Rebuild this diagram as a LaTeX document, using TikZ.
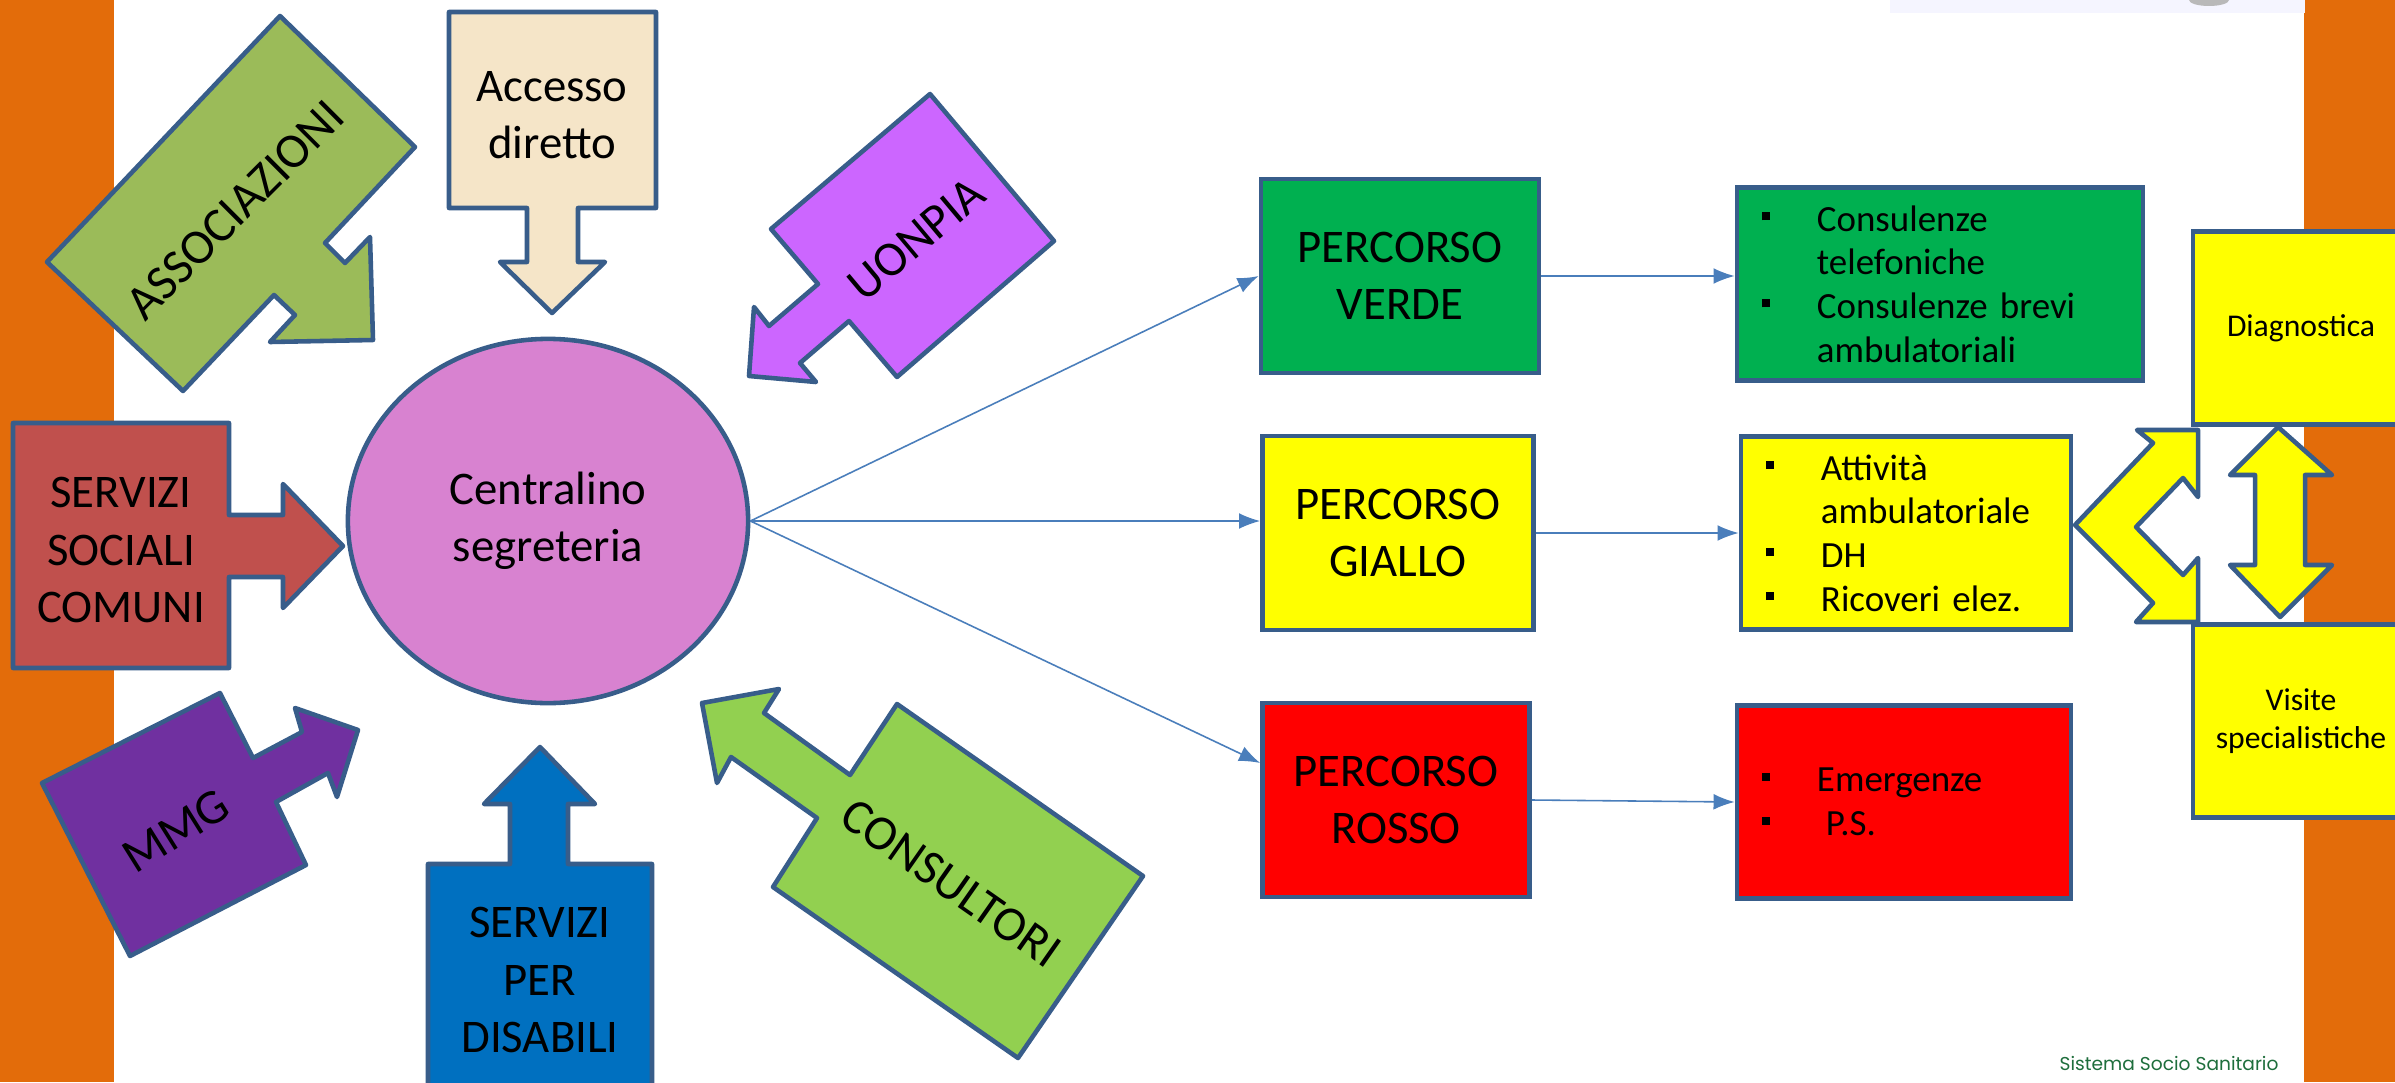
\documentclass[tikz,border=0pt]{standalone}
\usepackage{fontspec}
\setmainfont{Carlito}
\newfontfamily\footfont{Poppins}
\usetikzlibrary{shapes,arrows.meta,positioning}

\definecolor{orangebar}{RGB}{227,108,10}
\definecolor{outl}{RGB}{56,93,138}
\definecolor{cassoc}{RGB}{155,187,89}
\definecolor{caccesso}{RGB}{245,229,200}
\definecolor{ccentr}{RGB}{216,130,208}
\definecolor{csociali}{RGB}{192,80,77}
\definecolor{cmmg}{RGB}{112,48,160}
\definecolor{cdisab}{RGB}{0,112,192}
\definecolor{cconsult}{RGB}{146,208,80}
\definecolor{cuonpia}{RGB}{204,102,255}
\definecolor{cverde}{RGB}{0,176,80}
\definecolor{cgiallo}{RGB}{255,255,0}
\definecolor{crosso}{RGB}{255,0,0}
\definecolor{linkblue}{RGB}{74,126,187}
\definecolor{footgreen}{RGB}{30,110,60}

\newcommand{\bul}{\makebox[0.55cm][l]{\raisebox{0.11cm}{\rule{0.08cm}{0.08cm}}}}
\newcommand{\ind}{\hspace*{0.55cm}}

\begin{document}
\begin{tikzpicture}[x=0.01cm, y=-0.01cm,
  calloutarrow/.style={draw=outl, line width=1.3pt, line join=round},
  bigtext/.style={font=\fontsize{13.3}{16.3}\selectfont, align=center},
  slanttext/.style={font=\fontsize{14}{16}\selectfont},
  percorso/.style={draw=outl, line width=1.3pt, bigtext, inner sep=0pt, minimum height=1.94cm},
  detail/.style={draw=outl, line width=1.3pt, font=\fontsize{10.5}{12.4}\selectfont, align=left, inner xsep=0.25cm, inner ysep=0pt, minimum height=1.93cm},
  sidebox/.style={draw=outl, line width=1.3pt, fill=cgiallo, font=\fontsize{9}{10.8}\selectfont, align=center, minimum width=2.16cm, minimum height=1.93cm},
  feed/.style={draw=linkblue, line width=0.45pt, -{Latex[length=6pt,width=4.5pt]}}
]
\useasboundingbox (0,0) rectangle (2395,1082);
\clip (0,0) rectangle (2395,1082);
\fill[white] (0,0) rectangle (2395,1082);

% side bands
\fill[orangebar] (0,0) rectangle (114,1082);
\fill[orangebar] (2304,0) rectangle (2395,1082);
\fill[blue!4] (1890,0) rectangle (2305,13);
\fill[gray!55] (2209,0) ellipse (20 and 6);

% incoming arrows
\draw[calloutarrow, fill=cassoc] (280,16) -- (415,147) -- (325,243) -- (345,263) -- (370,237) -- (373,340) -- (270,342) -- (295,315) -- (274,295) -- (183,391) -- (47,262) -- cycle;
\node[slanttext, rotate=45] (assoc) at (235,210) {ASSOCIAZIONI};

\draw[calloutarrow, fill=caccesso] (449,12) -- (656,12) -- (656,208) -- (578,208) -- (578,262) -- (605,262) -- (552,313) -- (500,262) -- (527,262) -- (527,208) -- (449,208) -- cycle;
\node[bigtext] (accesso) at (552,115) {Accesso\\diretto};

\draw[calloutarrow, fill=cuonpia] (930,94) -- (1054,241) -- (897,377) -- (849,321) -- (800,363) -- (816,382) -- (749,376) -- (754,307) -- (769,326) -- (818,284) -- (771,229) -- cycle;
\node[slanttext, rotate=40] (uonpia) at (916,239) {UONPIA};

\draw[calloutarrow, fill=csociali] (13,423) -- (229,423) -- (229,515) -- (283,515) -- (283,484) -- (343,546) -- (283,608) -- (283,577) -- (229,577) -- (229,668) -- (13,668) -- cycle;
\node[bigtext] (sociali) at (121,550) {SERVIZI\\SOCIALI\\COMUNI};

\draw[calloutarrow, fill=cmmg] (42,783) -- (220,693) -- (253,758) -- (302,732) -- (295,708) -- (358,730) -- (337,797) -- (328,773) -- (276,802) -- (306,865) -- (130,956) -- cycle;
\node[slanttext, rotate=32] (mmg) at (176,831) {MMG};

\draw[calloutarrow, fill=cdisab] (428,1095) -- (428,864) -- (510,864) -- (510,804) -- (484,804) -- (540,747) -- (595,804) -- (568,804) -- (568,864) -- (652,864) -- (652,1095) -- cycle;
\node[bigtext] (disab) at (540,980) {SERVIZI\\PER\\DISABILI};

\draw[calloutarrow, fill=cconsult] (702,703) -- (779,689) -- (764,713) -- (850,775) -- (897,704) -- (1143,876) -- (1018,1058) -- (773,887) -- (817,818) -- (731,757) -- (717,783) -- cycle;
\node[slanttext, rotate=-35] (consult) at (951,883) {CONSULTORI};

% centre
\node[draw=outl, line width=1.3pt, fill=ccentr, ellipse, minimum width=4cm, minimum height=3.64cm, bigtext] (cen) at (548,521) {Centralino\\segreteria};

% paths
\node[percorso, fill=cverde, minimum width=2.78cm] (pverde) at (1400,276) {PERCORSO\\VERDE};
\node[percorso, fill=cgiallo, minimum width=2.71cm] (pgiallo) at (1398,533) {PERCORSO\\GIALLO};
\node[percorso, fill=crosso, minimum width=2.67cm] (prosso) at (1396,800) {PERCORSO\\ROSSO};

\node[detail, fill=cverde, text width=3.56cm] (dverde) at (1940,284) {\bul Consulenze\\ \ind telefoniche\\ \bul Consulenze brevi\\ \ind ambulatoriali};
\node[detail, fill=cgiallo, text width=2.80cm] (dgiallo) at (1906,533) {\bul Attività\\ \ind ambulatoriale\\ \bul DH\\ \bul Ricoveri elez.};
\node[detail, fill=crosso, text width=2.84cm] (drosso) at (1904,802) {\bul Emergenze\\ \bul\hspace{0.09cm}P.S.};

\node[sidebox] (diagn) at (2301,328) {Diagnostica};
\node[sidebox] (visite) at (2301,721) {Visite\\specialistiche};

\draw[calloutarrow, fill=cgiallo] (2137,430) -- (2198,430) -- (2198,497) -- (2183,478) -- (2136,527) -- (2183,575) -- (2198,558) -- (2198,622) -- (2136,622) -- (2153,603) -- (2075,525) -- (2153,443) -- cycle;
\draw[calloutarrow, fill=cgiallo] (2278,427) -- (2332,475) -- (2305,475) -- (2305,565) -- (2332,565) -- (2280,617) -- (2230,565) -- (2255,565) -- (2255,475) -- (2230,475) -- cycle;

\draw[feed] (cen.east) -- (pverde.west);
\draw[feed] (cen.east) -- (pgiallo.west |- cen.east);
\draw[feed] (cen.east) -- ([yshift=0.37cm]prosso.west);
\draw[feed] (pverde.east) -- (pverde.east -| dverde.west);
\draw[feed] (pgiallo.east) -- (dgiallo.west);
\draw[feed] (prosso.east) -- (drosso.west);

\node[font=\footfont\fontsize{5.3}{6}\selectfont, text=footgreen] (sss) at (2169,1063) {Sistema Socio Sanitario};
\end{tikzpicture}
\end{document}
